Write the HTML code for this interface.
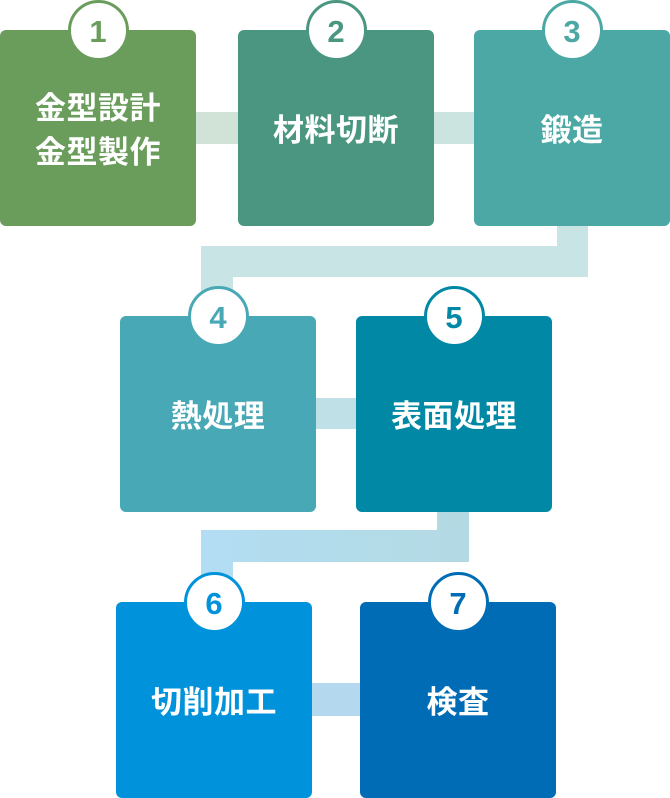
<!DOCTYPE html>
<html>
<head>
<meta charset="utf-8">
<style>
  html, body { margin: 0; padding: 0; background: #ffffff; }
  body { width: 670px; height: 798px; position: relative; overflow: hidden;
         font-family: "Liberation Sans", "Noto Sans CJK JP", sans-serif; }
  .c { position: absolute; }
  .box { position: absolute; width: 196px; height: 196px; border-radius: 6px;
         color: #fff; font-weight: bold; font-size: 31px; letter-spacing: 0.5px;
         font-family: "Liberation Sans", "Noto Sans CJK JP", sans-serif;
         display: flex; align-items: center; justify-content: center; text-align: center;
         box-sizing: border-box; padding-top: 5px; line-height: 44px; }
  .num { position: absolute; width: 61px; height: 61px; border-radius: 50%;
         background: #fff; box-sizing: border-box; border: 3.5px solid;
         display: flex; align-items: center; justify-content: center;
         font-family: "Liberation Sans", sans-serif; font-weight: bold; font-size: 31px;
         line-height: 1; padding-top: 1px; }
</style>
</head>
<body>
  <!-- connectors -->
  <div class="c" style="left:190px; top:112px; width:60px; height:32px; background:#d0e3d6;"></div>
  <div class="c" style="left:430px; top:112px; width:50px; height:32px; background:#cbe4df;"></div>

  <div class="c" style="left:557px; top:220px; width:31px; height:57px; background:#c8e4e5;"></div>
  <div class="c" style="left:201px; top:246px; width:387px; height:31px; background:#c8e4e5;"></div>
  <div class="c" style="left:201px; top:246px; width:32px; height:75px; background:#c8e4e5;"></div>

  <div class="c" style="left:310px; top:398px; width:52px; height:31px; background:#bfe0e6;"></div>

  <div class="c" style="left:437px; top:505px; width:32px; height:57px; background:#b3dae3;"></div>
  <div class="c" style="left:201px; top:530px; width:268px; height:32px; background:linear-gradient(to right,#b2ddf2,#b3dae3);"></div>
  <div class="c" style="left:201px; top:530px; width:32px; height:77px; background:#b2ddf2;"></div>

  <div class="c" style="left:305px; top:683px; width:60px; height:33px; background:#b4d8ee;"></div>

  <!-- boxes -->
  <div class="box" style="left:0px; top:30px; background:#6a9d5b;">金型設計<br>金型製作</div>
  <div class="box" style="left:238px; top:30px; background:#4a9681;">材料切断</div>
  <div class="box" style="left:474px; top:30px; background:#4ba8a4;">鍛造</div>
  <div class="box" style="left:120px; top:316px; background:#48a8b5;">熱処理</div>
  <div class="box" style="left:356px; top:316px; background:#0088a4;">表面処理</div>
  <div class="box" style="left:116px; top:602px; background:#0092da;">切削加工</div>
  <div class="box" style="left:360px; top:602px; background:#006cb5;">検査</div>

  <!-- number circles -->
  <div class="num" style="left:67.5px; top:0px; border-color:#6a9d5b; color:#6a9d5b;">1</div>
  <div class="num" style="left:305.5px; top:0px; border-color:#4a9681; color:#4a9681;">2</div>
  <div class="num" style="left:541.5px; top:0px; border-color:#4ba8a4; color:#4ba8a4;">3</div>
  <div class="num" style="left:187.5px; top:286px; border-color:#48a8b5; color:#48a8b5;">4</div>
  <div class="num" style="left:423.5px; top:286px; border-color:#0088a4; color:#0088a4;">5</div>
  <div class="num" style="left:183.5px; top:572px; border-color:#0092da; color:#0092da;">6</div>
  <div class="num" style="left:427.5px; top:572px; border-color:#006cb5; color:#006cb5;">7</div>
</body>
</html>
